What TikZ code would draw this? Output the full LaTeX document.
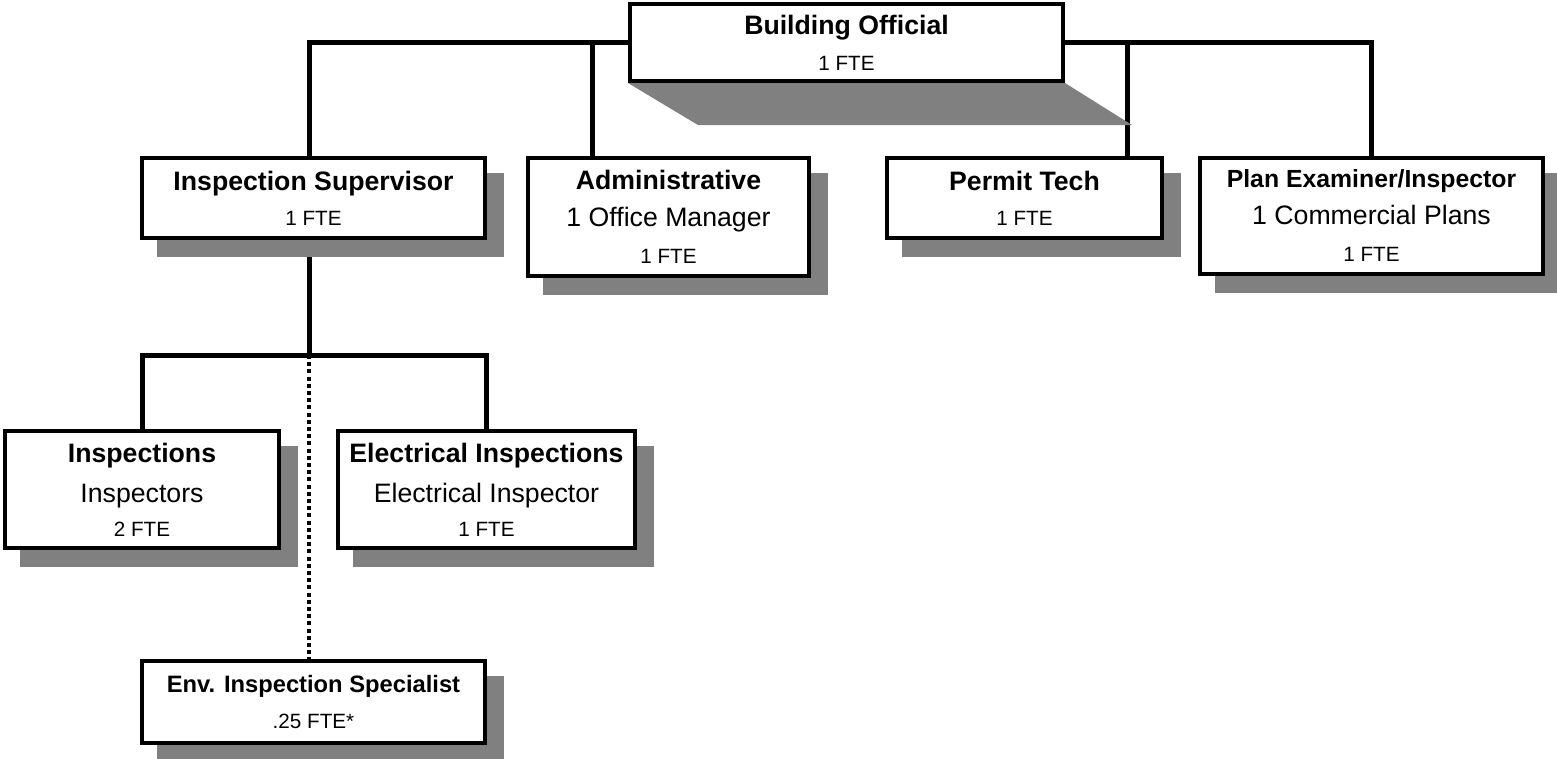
\documentclass[tikz,border=0pt]{standalone}
\usepackage{fontspec}
\setmainfont{Liberation Sans}
\usetikzlibrary{calc}
\pgfdeclarelayer{background}
\pgfsetlayers{background,main}
\definecolor{shadowgray}{RGB}{128,128,128}
\tikzset{
  x=0.75pt, y=-0.75pt,
  orgbox/.style 2 args={draw=black, line width=3pt, fill=white, inner sep=0pt,
    align=center, minimum width=#1*0.75pt, minimum height=#2*0.75pt,
    font=\fontsize{20}{20}\selectfont},
  conn/.style={draw=black, line width=3.75pt},
  dotconn/.style={draw=black, line width=3pt, dash pattern=on 3pt off 2.4pt},
  shade/.style={fill=shadowgray, draw=none},
}
\newcommand{\fte}[1]{{\fontsize{15.5}{15.5}\selectfont #1}}
\newcommand{\dropshadow}[1]{\fill[shade] ($(#1.south west)+(17,17)$) rectangle ($(#1.north east)+(17,17)$);}
\begin{document}
\begin{tikzpicture}
\useasboundingbox (0,0) rectangle (1557,758);

\node[orgbox={433}{77}] (bo) at (846.5,42.5)
  {\textbf{Building Official}\\[7pt]\fte{1 FTE}};
\node[orgbox={343}{80}] (is) at (313.5,198)
  {\textbf{Inspection Supervisor}\\[6pt]\fte{1 FTE}};
\node[orgbox={281}{118}] (adm) at (668.5,217)
  {\textbf{Administrative}\\[7.75pt]1 Office Manager\\[7.75pt]\fte{1 FTE}};
\node[orgbox={275}{80}] (pt) at (1024.5,198)
  {\textbf{Permit Tech}\\[6pt]\fte{1 FTE}};
\node[orgbox={343}{116}] (pe) at (1371.5,216)
  {{\fontsize{18.6}{18.6}\selectfont\bfseries Plan Examiner/Inspector}\\[7.75pt]1 Commercial Plans\\[7.75pt]\fte{1 FTE}};
\node[orgbox={274}{117}] (ins) at (142,489.5)
  {\textbf{Inspections}\\[10pt]Inspectors\\[5.5pt]\fte{2 FTE}};
\node[orgbox={297}{117}] (el) at (486.5,489.5)
  {\textbf{Electrical Inspections}\\[10pt]Electrical Inspector\\[5.5pt]\fte{1 FTE}};
\node[orgbox={343}{82}] (env) at (313.5,702)
  {{\fontsize{17.8}{17.8}\selectfont\bfseries Env. Inspection Specialist}\\[7pt]\fte{.25 FTE*}};

\begin{pgfonlayer}{background}
  % connectors
  \draw[conn] (bo.west) -| ($(is.north)+(-4.5,0)$);
  \draw[conn] (bo.east) -| (pe.north);
  \draw[conn] ($(adm.north west)+(66,0)$) |- (bo.west);
  \draw[conn] ($(pt.north east)+(-37,0)$) |- (bo.east);
  \draw[conn] ($(is.south)+(-4.5,0)$) -- ++(0,115) coordinate (j);
  \draw[conn] (ins.north) |- (j) -| (el.north);
  \draw[dotconn] (j) -- (j |- env.north);
  % shadows
  \fill[shade] (bo.south west) -- ($(bo.south west)+(70,42)$)
    -- ($(bo.south east)+(67,42)$) -- (bo.south east) -- cycle;
  \dropshadow{is}
  \dropshadow{adm}
  \dropshadow{pt}
  \dropshadow{pe}
  \dropshadow{ins}
  \dropshadow{el}
  \dropshadow{env}
\end{pgfonlayer}
\end{tikzpicture}
\end{document}
